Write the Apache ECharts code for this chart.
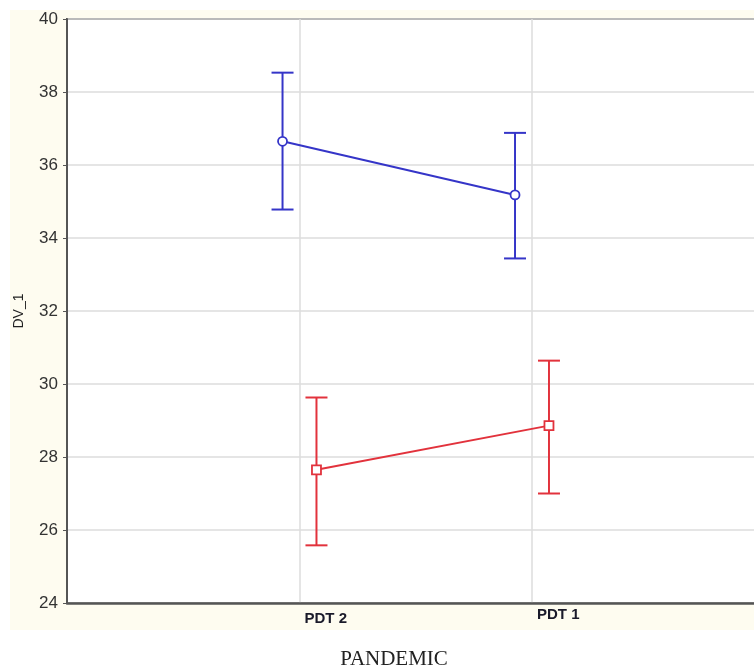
<!DOCTYPE html>
<html><head><meta charset="utf-8">
<script src="https://cdn.jsdelivr.net/npm/echarts@6/dist/echarts.min.js"></script>
<style>html,body{margin:0;padding:0;background:#fff}#c{width:754px;height:667px}</style>
</head><body><div id="c"></div>
<script>
// Data
var categories = ['PDT 2', 'PDT 1'];
var blueMean = [36.65, 35.18];
var blueLow  = [34.78, 33.44];
var blueHigh = [38.53, 36.88];
var redMean  = [27.65, 28.86];
var redLow   = [25.58, 27.00];
var redHigh  = [29.63, 30.64];
var yTicks = [24, 26, 28, 30, 32, 34, 36, 38, 40];

var BLUE = '#3535c8', RED = '#e2323c';
var dodge = 0.073;

function pos(i, off) { return i + 1 + off; }
function meanData(m, off) { return m.map(function (v, i) { return [pos(i, off), v]; }); }
function errData(lo, hi, off) { return lo.map(function (v, i) { return [pos(i, off), v, hi[i]]; }); }

function errSeries(lo, hi, off, color) {
  return {
    type: 'custom', z: 3,
    data: errData(lo, hi, off),
    encode: { x: 0, y: [1, 2] },
    renderItem: function (params, api) {
      var x = api.value(0);
      var a = api.coord([x, api.value(1)]);
      var b = api.coord([x, api.value(2)]);
      var hw = 11;
      var st = { stroke: color, lineWidth: 2 };
      return { type: 'group', children: [
        { type: 'line', shape: { x1: a[0], y1: a[1], x2: b[0], y2: b[1] }, style: st },
        { type: 'line', shape: { x1: a[0] - hw, y1: a[1], x2: a[0] + hw, y2: a[1] }, style: st },
        { type: 'line', shape: { x1: b[0] - hw, y1: b[1], x2: b[0] + hw, y2: b[1] }, style: st }
      ]};
    }
  };
}

var labelFont = { fontFamily: 'Liberation Sans, Arial, sans-serif', fontWeight: 'bold', fontSize: 15, color: '#1a1a2a' };

var chart = echarts.init(document.getElementById('c'), null, { renderer: 'canvas' });
chart.setOption({
  animation: false,
  backgroundColor: '#ffffff',
  graphic: [{ type: 'rect', z: -10, shape: { x: 10, y: 10, width: 744, height: 620 }, style: { fill: '#fefcf0' } }],
  title: { text: 'PANDEMIC', left: 389, textAlign: 'center', top: 644,
    textStyle: { fontFamily: 'Liberation Serif, DejaVu Serif, serif', fontWeight: 'normal', fontSize: 21, color: '#222' } },
  grid: { left: 67, top: 19, width: 697.5, bottom: 64, outerBoundsMode: 'none', containLabel: false,
    show: true, backgroundColor: '#ffffff', borderColor: '#555', borderWidth: 2 },
  xAxis: {
    type: 'value', min: 0, max: 3, interval: 1,
    axisLine: { show: true, onZero: false, lineStyle: { color: '#555', width: 2.5 } },
    axisTick: { show: false },
    splitLine: { show: true, lineStyle: { color: '#dddddd', width: 1.5 } },
    axisLabel: {
      margin: 4, align: 'left',
      rich: {
        a: Object.assign({ padding: [4, 0, 0, 5] }, labelFont),
        b: Object.assign({ padding: [0, 0, 0, 5] }, labelFont)
      },
      formatter: function (v) {
        var i = Math.round(v) - 1;
        if (categories[i] === undefined || Math.abs(v - Math.round(v)) > 1e-6) return '';
        return '{' + (i === 0 ? 'a' : 'b') + '|' + categories[i] + '}';
      }
    }
  },
  yAxis: {
    type: 'value', min: yTicks[0], max: yTicks[yTicks.length - 1], interval: 2,
    name: 'DV_1', nameLocation: 'middle', nameGap: 41, nameRotate: 90,
    nameTextStyle: { fontFamily: 'Liberation Sans, Arial, sans-serif', fontSize: 14, color: '#222' },
    axisLine: { show: true, lineStyle: { color: '#555', width: 2 } },
    axisTick: { show: true, length: 4, lineStyle: { color: '#555', width: 1 } },
    splitLine: { show: true, lineStyle: { color: '#dddddd', width: 1.5 } },
    axisLabel: { margin: 9, fontFamily: 'Liberation Sans, Arial, sans-serif', fontSize: 17, color: '#333' }
  },
  series: [
    errSeries(blueLow, blueHigh, -dodge, BLUE),
    errSeries(redLow, redHigh, dodge, RED),
    { type: 'line', z: 4, data: meanData(blueMean, -dodge), symbol: 'circle', symbolSize: 9,
      lineStyle: { color: BLUE, width: 2 }, itemStyle: { color: '#fff', borderColor: BLUE, borderWidth: 1.8 } },
    { type: 'line', z: 4, data: meanData(redMean, dodge), symbol: 'rect', symbolSize: 9,
      lineStyle: { color: RED, width: 2 }, itemStyle: { color: '#fff', borderColor: RED, borderWidth: 1.8 } }
  ]
});
</script></body></html>
